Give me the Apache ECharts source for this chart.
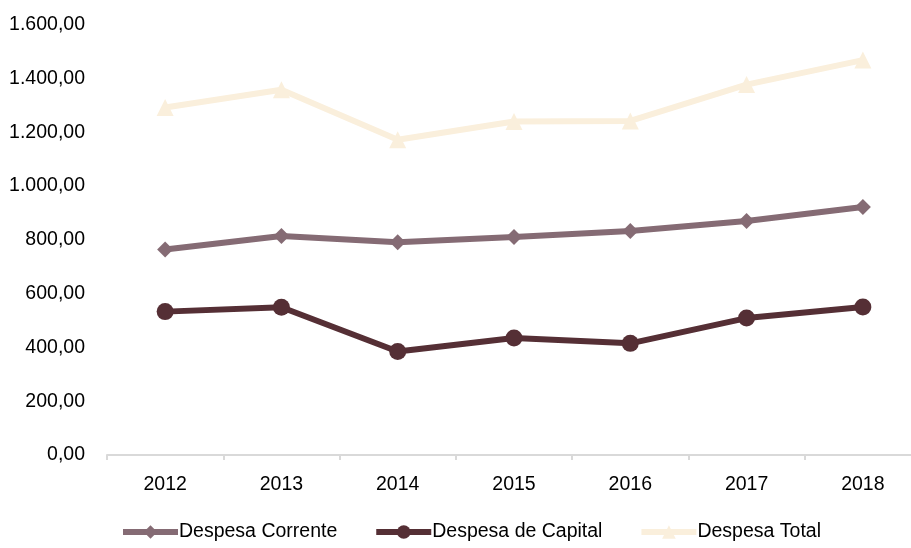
<!DOCTYPE html>
<html><head><meta charset="utf-8">
<script src="https://cdn.jsdelivr.net/npm/echarts@6/dist/echarts.min.js"></script>
<style>html,body{margin:0;padding:0;background:#fff}#c{width:911px;height:548px}</style>
</head><body><div id="c"></div>
<script>
const categories = ['2012','2013','2014','2015','2016','2017','2018'];
const despesaCorrente = [764, 814, 791, 810, 833, 870, 922];
const despesaCapital = [533, 549, 385, 435, 415, 509, 550];
const despesaTotal = [1292, 1358, 1172, 1240, 1242, 1377, 1468];
const yTicks = [0, 200, 400, 600, 800, 1000, 1200, 1400, 1600];

function fmt(v){
  const s = Math.round(v).toString().replace(/\B(?=(\d{3})+(?!\d))/g, '.');
  return s + ',00';
}
const font = '"Liberation Sans", Arial, sans-serif';
const fs = 19.5;
const chart = echarts.init(document.getElementById('c'), null, {renderer:'canvas'});
chart.setOption({
  animation:false,
  backgroundColor:'#fff',
  grid:{left:107, top:24.6, width:814, bottom:93, containLabel:false, outerBoundsMode:'none'},
  legend:{
    bottom:1, left:115, itemGap:36, itemWidth:55, itemHeight:17,
    lineStyle:{width:6},
    textStyle:{fontFamily:font, fontSize:fs, color:'#000', padding:[0,0,0,-4]},
    data:['Despesa Corrente','Despesa de Capital','Despesa Total']
  },
  xAxis:{
    type:'category', data:categories, boundaryGap:true,
    axisLine:{lineStyle:{color:'#d9d9d9', width:2}},
    axisTick:{show:true, length:5, lineStyle:{color:'#d9d9d9', width:2}},
    axisLabel:{fontFamily:font, fontSize:fs, color:'#000', margin:20}
  },
  yAxis:{
    type:'value', min:yTicks[0], max:yTicks[yTicks.length-1], interval:200,
    splitLine:{show:false}, axisLine:{show:false}, axisTick:{show:false},
    axisLabel:{fontFamily:font, fontSize:fs, color:'#000', margin:22, formatter:fmt}
  },
  series:[
    {name:'Despesa Corrente', type:'line', data:despesaCorrente, symbol:'diamond', symbolSize:16,
     lineStyle:{color:'#856b74', width:6}, itemStyle:{color:'#856b74'}},
    {name:'Despesa de Capital', type:'line', data:despesaCapital, symbol:'circle', symbolSize:17,
     lineStyle:{color:'#552f35', width:6}, itemStyle:{color:'#552f35'}},
    {name:'Despesa Total', type:'line', data:despesaTotal, symbol:'triangle', symbolSize:17,
     lineStyle:{color:'#faefdc', width:6}, itemStyle:{color:'#faefdc'}}
  ]
});
</script></body></html>
